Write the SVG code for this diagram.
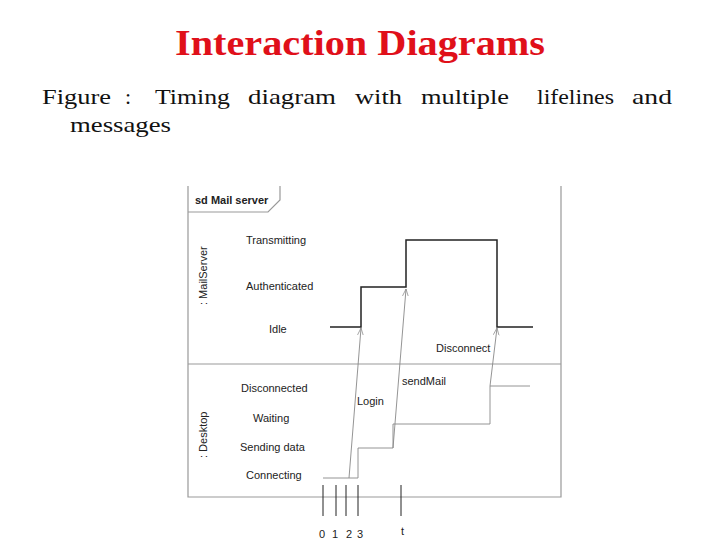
<svg xmlns="http://www.w3.org/2000/svg" width="720" height="540" viewBox="0 0 720 540">
<defs>
<style>
.l{font-family:"Liberation Sans",Arial,sans-serif;font-size:11px;fill:#222}
.f{fill:none;stroke:#999;stroke-width:1.2}
.s{fill:none;stroke:#222;stroke-width:1.5}
.m{fill:none;stroke:#888;stroke-width:0.9}
.t{font-family:"Liberation Serif","Times New Roman",serif;font-size:22px;fill:#111}
</style>
<marker id="a" viewBox="0 0 10 10" refX="10" refY="5" markerWidth="8" markerHeight="8" orient="auto"><path d="M0,1 L10,5 L0,9" fill="none" stroke="#888" stroke-width="1"/></marker>
</defs>
<rect width="720" height="540" fill="#fff"/>
<text x="175" y="55" textLength="370" lengthAdjust="spacingAndGlyphs" font-family="Liberation Serif,serif" font-size="35" font-weight="bold" fill="#e0101a">Interaction Diagrams</text>
<text class="t" x="42" y="104" textLength="69" lengthAdjust="spacingAndGlyphs">Figure</text><text class="t" x="125" y="104">:</text><text class="t" x="155" y="104" textLength="75" lengthAdjust="spacingAndGlyphs">Timing</text><text class="t" x="248" y="104" textLength="88" lengthAdjust="spacingAndGlyphs">diagram</text><text class="t" x="355" y="104" textLength="47" lengthAdjust="spacingAndGlyphs">with</text><text class="t" x="421" y="104" textLength="88" lengthAdjust="spacingAndGlyphs">multiple</text><text class="t" x="537" y="104" textLength="77" lengthAdjust="spacingAndGlyphs">lifelines</text><text class="t" x="632" y="104" textLength="40" lengthAdjust="spacingAndGlyphs">and</text>
<text class="t" x="70" y="132" textLength="101" lengthAdjust="spacingAndGlyphs">messages</text>
<g id="frame">
<path class="f" d="M188,186 V497 H561 V186"/>
<path class="f" d="M188,212 H268 L280,200 V186"/>
<line class="f" x1="188" y1="364" x2="561" y2="364"/>
<text class="l" x="195" y="204" font-weight="bold">sd Mail server</text>
</g>
<g id="mailserver">
<text class="l" transform="translate(207,305) rotate(-90)">: MailServer</text>
<text class="l" x="246" y="244">Transmitting</text>
<text class="l" x="246" y="290">Authenticated</text>
<text class="l" x="269" y="333">Idle</text>
<path class="s" d="M330,327 H361 V287 H406 V240 H497 V327 H533"/>
</g>
<g id="desktop">
<text class="l" transform="translate(207,458) rotate(-90)">: Desktop</text>
<text class="l" x="241" y="392">Disconnected</text>
<text class="l" x="253" y="422">Waiting</text>
<text class="l" x="240" y="451">Sending data</text>
<text class="l" x="246" y="479">Connecting</text>
<path class="m" stroke="#666" stroke-width="1.2" d="M323,478 H358 V448 H393 V424 H490 V386 H530"/>
</g>
<g id="connectors">
<line class="m" x1="349" y1="478" x2="361" y2="328" marker-end="url(#a)"/>
<line class="m" x1="393" y1="448" x2="406" y2="289" marker-end="url(#a)"/>
<line class="m" x1="490" y1="386" x2="497" y2="328" marker-end="url(#a)"/>
<text class="l" x="357" y="405">Login</text>
<text class="l" x="402" y="385">sendMail</text>
<text class="l" x="436" y="352">Disconnect</text>
</g>
<g id="axis" stroke="#222" stroke-width="1">
<line x1="323" y1="485" x2="323" y2="516"/><line x1="336" y1="485" x2="336" y2="516"/><line x1="346" y1="485" x2="346" y2="516"/><line x1="358" y1="485" x2="358" y2="516"/><line x1="401" y1="485" x2="401" y2="516"/>
</g>
<text class="l" x="319" y="538">0</text><text class="l" x="332" y="538">1</text><text class="l" x="346" y="538">2</text><text class="l" x="357" y="538">3</text><text class="l" x="401" y="535">t</text>
</svg>
